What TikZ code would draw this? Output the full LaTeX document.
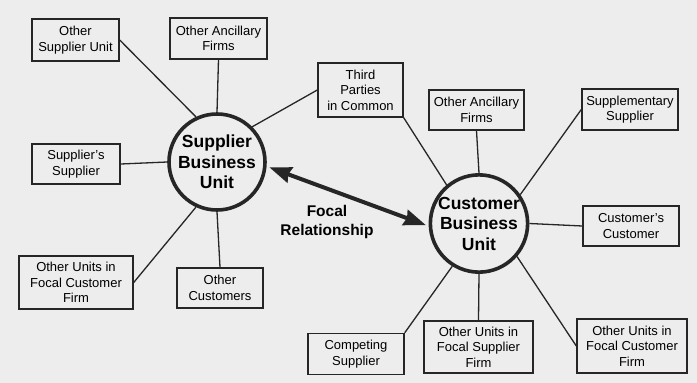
\documentclass[tikz,border=0pt]{standalone}
\usepackage{fontspec}
\setmainfont{Liberation Sans}
\usetikzlibrary{arrows.meta}
\begin{document}
\begin{tikzpicture}[
	x=1pt, y=-1pt,
	box/.style={rectangle, draw=black!85, line width=1.4pt, fill=black!7, align=center, inner sep=1pt, font=\fontsize{13}{15.5}\selectfont},
	unit/.style={circle, draw=black!85, line width=3.6pt, fill=black!7, minimum size=96pt, inner sep=0pt, align=center, font=\fontsize{17.5}{20.5}\selectfont\bfseries},
	link/.style={draw=black!85, line width=1.3pt},
	focal/.style={draw=black!85, line width=4pt, {Stealth[length=22pt,width=16pt,inset=2pt]}-{Stealth[length=22pt,width=16pt,inset=2pt]}}
]
\useasboundingbox (0,0) rectangle (697,383);
\fill[black!7] (0,0) rectangle (697,383);
\node[unit] (sbu) at (217,162) {Supplier\\Business\\Unit};
\node[unit] (cbu) at (479,223.5) {Customer\\Business\\Unit};
\node[box, minimum width=87pt, minimum height=42pt] (osu) at (75.5,40) {Other\\Supplier Unit};
\node[box, minimum width=97pt, minimum height=41pt] (oaf) at (218.5,38.5) {Other Ancillary\\Firms};
\node[box, minimum width=85pt, minimum height=54pt] (tpc) at (360.5,90) {Third\\Parties\\in Common};
\node[box, minimum width=88pt, minimum height=40pt] (sss) at (76,164) {Supplier's\\Supplier};
\node[box, minimum width=114pt, minimum height=53pt] (oucl) at (76,282.5) {Other Units in\\Focal Customer\\Firm};
\node[box, minimum width=86pt, minimum height=40pt] (oc) at (220,288) {Other\\Customers};
\node[box, minimum width=95pt, minimum height=40pt] (oafr) at (476.5,110) {Other Ancillary\\Firms};
\node[box, minimum width=96pt, minimum height=41pt] (sup) at (630,109.5) {Supplementary\\Supplier};
\node[box, minimum width=96pt, minimum height=40pt] (cc) at (631,226) {Customer's\\Customer};
\node[box, minimum width=96pt, minimum height=41pt] (cs) at (356,354) {Competing\\Supplier};
\node[box, minimum width=109pt, minimum height=52pt] (ous) at (478.5,347) {Other Units in\\Focal Supplier\\Firm};
\node[box, minimum width=110pt, minimum height=54pt] (oucr) at (632,346) {Other Units in\\Focal Customer\\Firm};
\node[align=center, font=\fontsize{15.5}{19}\selectfont\bfseries] (rel) at (327,222) {Focal\\Relationship};
\draw[link] (osu.east) -- (sbu.115);
\draw[link] (oaf.south) -- (sbu.north);
\draw[link] (tpc.west) -- (sbu.45);
\draw[link] (sss.east) -- (sbu.west);
\draw[link] (oucl.east) -- (sbu.245);
\draw[link] (oc.north) -- (sbu.south);
\draw[link] (tpc.south east) -- (cbu.130);
\draw[link] (oafr.south) -- (cbu.north);
\draw[link] (sup.west) -- (cbu.35);
\draw[link] (cc.west) -- (cbu.east);
\draw[link] (oucr.west) -- (cbu.-41);
\draw[link] (ous.north) -- (cbu.south);
\draw[link] (cs.north east) -- (cbu.238);
\draw[focal, shorten <=3pt, shorten >=3pt] (sbu.-5) -- (cbu.183);
\end{tikzpicture}
\end{document}
